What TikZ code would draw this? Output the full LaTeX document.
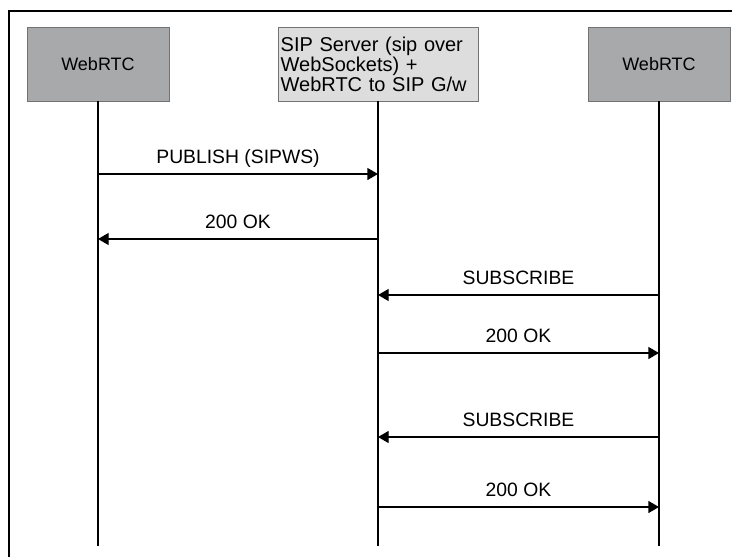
\documentclass[tikz,border=0pt]{standalone}
\usepackage{fontspec}
\setmainfont{Liberation Sans}
\usetikzlibrary{arrows.meta}
\definecolor{boxdark}{RGB}{168,169,171}
\definecolor{boxlight}{RGB}{221,221,222}
\definecolor{boxedge}{RGB}{115,115,115}

\begin{document}
\begin{tikzpicture}[x=0.75pt, y=-0.75pt, every node/.style={font=\fontsize{13.5}{15}\selectfont},
	actor/.style={draw=boxedge, line width=0.6pt, minimum width=106.5pt, minimum height=55.5pt, inner sep=2pt},
	life/.style={line width=1.2pt},
	msg/.style={line width=1pt, -{Triangle[length=8pt, width=9pt]}},
	lbl/.style={anchor=base, yshift=8.2pt, font=\fontsize{14.5}{15}\selectfont}]
	\useasboundingbox (0,0) rectangle (732,557);
	% frame
	\draw[line width=0.9pt] (732,11) -- (9,11) -- (9,557);
	% actors
	\node[actor, fill=boxdark] (wl) at (98,64) {WebRTC};
	\node[actor, fill=boxlight, minimum width=150pt, text width=146pt, inner xsep=1.5pt, align=left, font=\fontsize{15}{15}\selectfont] (srv) at (378,64) {SIP Server (sip over\\WebSockets) +\\WebRTC to SIP G/w};
	\node[actor, fill=boxdark] (wr) at (659,64) {WebRTC};
	% lifelines
	\coordinate (bot) at (0,546);
	\draw[life] (wl.south) -- (wl |- bot);
	\draw[life] (srv.south) -- (srv |- bot);
	\draw[life] (wr.south) -- (wr |- bot);
	% messages
	\draw[msg] (wl |- 0,174) -- node[lbl] {PUBLISH (SIPWS)} (srv |- 0,174);
	\draw[msg] (srv |- 0,239) -- node[lbl] {200 OK} (wl |- 0,239);
	\draw[msg] (wr |- 0,295) -- node[lbl] {SUBSCRIBE} (srv |- 0,295);
	\draw[msg] (srv |- 0,353) -- node[lbl] {200 OK} (wr |- 0,353);
	\draw[msg] (wr |- 0,437) -- node[lbl] {SUBSCRIBE} (srv |- 0,437);
	\draw[msg] (srv |- 0,507) -- node[lbl] {200 OK} (wr |- 0,507);
\end{tikzpicture}
\end{document}
